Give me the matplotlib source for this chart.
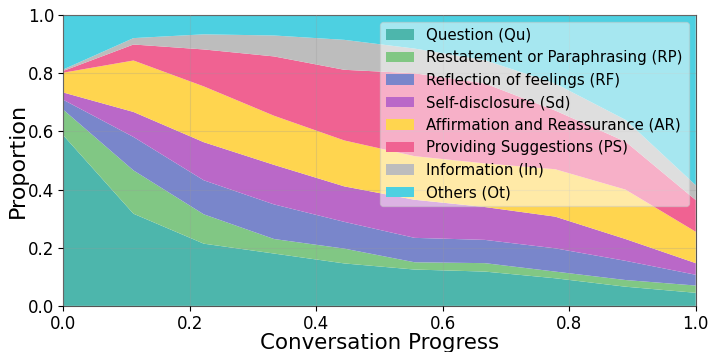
import numpy as np
import matplotlib.pyplot as plt

# conversation progress points
progress = np.linspace(0, 1, 10)

# proportion of each strategy at each progress point
qu = [0.587, 0.317, 0.214, 0.180, 0.146, 0.125, 0.118, 0.095, 0.066, 0.045]
rp = [0.088, 0.149, 0.101, 0.050, 0.051, 0.025, 0.029, 0.023, 0.023, 0.025]
rf = [0.034, 0.115, 0.117, 0.119, 0.092, 0.084, 0.080, 0.080, 0.066, 0.037]
sd = [0.025, 0.086, 0.131, 0.136, 0.122, 0.131, 0.113, 0.109, 0.075, 0.040]
ar = [0.068, 0.177, 0.192, 0.169, 0.158, 0.150, 0.150, 0.163, 0.170, 0.108]
ps = [0.006, 0.055, 0.127, 0.204, 0.243, 0.285, 0.275, 0.202, 0.165, 0.109]
inf = [0.005, 0.022, 0.052, 0.072, 0.103, 0.085, 0.080, 0.093, 0.075, 0.051]
ot = [0.187, 0.079, 0.066, 0.070, 0.085, 0.115, 0.155, 0.235, 0.360, 0.585]

labels = ['Question (Qu)', 'Restatement or Paraphrasing (RP)',
          'Reflection of feelings (RF)', 'Self-disclosure (Sd)',
          'Affirmation and Reassurance (AR)', 'Providing Suggestions (PS)',
          'Information (In)', 'Others (Ot)']
colors = ['#4DB6AC', '#81C784', '#7986CB', '#BA68C8',
          '#FFD54F', '#F06292', '#BDBDBD', '#4DD0E1']

fig = plt.figure(figsize=(7.18, 3.52), dpi=100)
ax = fig.add_axes([0.088, 0.131, 0.881, 0.826])

ax.stackplot(progress, qu, rp, rf, sd, ar, ps, inf, ot,
             labels=labels, colors=colors)
ax.grid(True, color='#999999', alpha=0.25, linewidth=0.8)
ax.set_axisbelow(False)

ax.set_xlim(0, 1)
ax.set_ylim(0, 1)
ax.set_xlabel('Conversation Progress', fontsize=15.4, labelpad=0)
ax.set_ylabel('Proportion', fontsize=16, labelpad=0)
ax.tick_params(labelsize=12, pad=3)
for s in ax.spines.values():
    s.set_color('#555555')

ax.legend(loc='upper right', fontsize=10.8, framealpha=0.5,
          handlelength=1.9, labelspacing=0.5, borderaxespad=0.45)

plt.savefig('out.png', dpi=100)
